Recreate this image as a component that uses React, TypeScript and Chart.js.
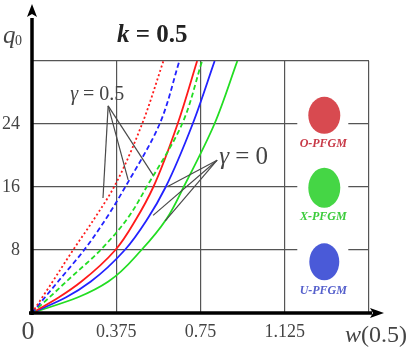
import React, { useEffect, useRef } from 'react';
import { Chart, registerables } from 'chart.js';

Chart.register(...registerables);

// q0 levels (y) and the w(0.5) value (x) of each curve at those levels
const qLevels = [0, 2, 4, 8, 12, 16, 24, 32];
const wO_g05 = [0, 0.046, 0.092, 0.183, 0.278, 0.365, 0.49, 0.585];
const wU_g05 = [0, 0.058, 0.116, 0.232, 0.33, 0.415, 0.568, 0.656];
const wX_g05 = [0, 0.078, 0.153, 0.305, 0.425, 0.51, 0.668, 0.757];
const wO_g0 = [0, 0.12, 0.22, 0.371, 0.465, 0.54, 0.648, 0.735];
const wU_g0 = [0, 0.152, 0.262, 0.413, 0.515, 0.595, 0.715, 0.813];
const wX_g0 = [0, 0.205, 0.34, 0.487, 0.6, 0.675, 0.812, 0.914];

const xTicks = [0, 0.375, 0.75, 1.125, 1.5];
const xTickLabels = ['', '0.375', '0.75', '1.125', ''];
const yTicks = [0, 8, 16, 24, 32];
const yTickLabels = ['', '8', '16', '24', ''];

const legendNames = ['O-PFGM', 'X-PFGM', 'U-PFGM'];
const legendFill = ['#d84a50', '#45d645', '#4a5ad8'];
const legendText = ['#c83a48', '#3ccc3c', '#5560cc'];

const FAM = '"Liberation Serif", "DejaVu Serif", serif';

// annotation pointers (data coordinates)
const g05Apex = { x: 0.339, y: 26.3 };
const g05Ends = [
  { x: 0.316, y: 14.6 },
  { x: 0.428, y: 16.9 },
  { x: 0.539, y: 17.5 },
];
const g0Apex = { x: 0.824, y: 19.4 };
const g0Ends = [
  { x: 0.606, y: 16.1 },
  { x: 0.539, y: 12.4 },
  { x: 0.593, y: 11.7 },
];

const overlay = {
  id: 'overlay',
  afterDraw(chart: any) {
    const { ctx } = chart;
    const xs = chart.scales.x;
    const ys = chart.scales.y;
    const X = (v: number) => xs.getPixelForValue(v);
    const Y = (v: number) => ys.getPixelForValue(v);
    ctx.save();

    // legend markers
    const lx = X(1.301);
    const centers = [Y(25.1), Y(15.9), Y(6.5)];
    const radii = [
      [16, 18.5],
      [16, 20],
      [15, 18.5],
    ];
    centers.forEach((cy, i) => {
      ctx.fillStyle = '#ffffff';
      ctx.fillRect(lx - 27, cy - 22, 51, 56);
      const [rx, ry] = radii[i];
      ctx.fillStyle = legendFill[i];
      ctx.beginPath();
      ctx.ellipse(lx, cy, rx, ry, 0, 0, Math.PI * 2);
      ctx.fill();
      ctx.fillStyle = legendText[i];
      ctx.font = `italic bold 12px ${FAM}`;
      ctx.textAlign = 'center';
      ctx.textBaseline = 'alphabetic';
      ctx.fillText(legendNames[i], lx - 1, cy + 32);
    });

    // annotation pointer lines
    ctx.strokeStyle = '#4a4a4a';
    ctx.lineWidth = 1.2;
    ctx.setLineDash([]);
    [
      [g05Apex, g05Ends],
      [g0Apex, g0Ends],
    ].forEach(([apex, ends]: any) => {
      ends.forEach((e: any) => {
        ctx.beginPath();
        ctx.moveTo(X(apex.x), Y(apex.y));
        ctx.lineTo(X(e.x), Y(e.y));
        ctx.stroke();
      });
    });

    ctx.fillStyle = '#444';
    ctx.textAlign = 'left';
    ctx.textBaseline = 'alphabetic';
    // γ = 0.5
    let tx = X(g05Apex.x) - 38;
    let ty = Y(g05Apex.y) - 6;
    ctx.font = `italic 20px ${FAM}`;
    ctx.fillText('γ', tx, ty);
    tx += ctx.measureText('γ').width;
    ctx.font = `20px ${FAM}`;
    ctx.fillText(' = 0.5', tx, ty);
    // γ = 0
    tx = X(g0Apex.x) + 2;
    ty = Y(g0Apex.y) + 4;
    ctx.font = `italic 25px ${FAM}`;
    ctx.fillText('γ', tx, ty);
    tx += ctx.measureText('γ').width;
    ctx.font = `25px ${FAM}`;
    ctx.fillText(' = 0', tx, ty);

    // thick axes with arrows
    const x0 = X(0);
    const y0 = Y(0);
    const xEnd = X(1.5);
    const yTop = Y(32);
    ctx.strokeStyle = '#000';
    ctx.fillStyle = '#000';
    ctx.lineWidth = 3.5;
    ctx.beginPath();
    ctx.moveTo(x0 - 3, y0);
    ctx.lineTo(xEnd + 3, y0);
    ctx.stroke();
    ctx.beginPath();
    ctx.moveTo(xEnd + 15, y0);
    ctx.lineTo(xEnd + 1, y0 - 5);
    ctx.lineTo(xEnd + 4, y0);
    ctx.lineTo(xEnd + 1, y0 + 5);
    ctx.closePath();
    ctx.fill();
    ctx.beginPath();
    ctx.moveTo(x0, y0 + 2);
    ctx.lineTo(x0, yTop - 43);
    ctx.stroke();
    ctx.beginPath();
    ctx.moveTo(x0, yTop - 57);
    ctx.lineTo(x0 - 5, yTop - 44);
    ctx.lineTo(x0, yTop - 47);
    ctx.lineTo(x0 + 5, yTop - 44);
    ctx.closePath();
    ctx.fill();

    // axis titles and origin
    ctx.fillStyle = '#444';
    ctx.font = `26px ${FAM}`;
    ctx.textAlign = 'center';
    ctx.fillText('0', x0 - 4, y0 + 26);

    ctx.textAlign = 'left';
    ctx.font = `italic 25px ${FAM}`;
    ctx.fillText('q', 3, 43);
    ctx.font = `14px ${FAM}`;
    ctx.fillText('0', 15, 45);

    let wx = xEnd - 24;
    ctx.font = `italic 24px ${FAM}`;
    ctx.fillText('w', wx, y0 + 29);
    wx += ctx.measureText('w').width;
    ctx.font = `24px ${FAM}`;
    ctx.fillText('(0.5)', wx, y0 + 29);

    ctx.fillStyle = '#222';
    let kx = 117;
    ctx.font = `italic bold 25px ${FAM}`;
    ctx.fillText('k', kx, 42);
    kx += ctx.measureText('k').width;
    ctx.font = `bold 25px ${FAM}`;
    ctx.fillText(' = 0.5', kx, 42);

    ctx.restore();
  },
};

const mk = (label: string, ws: number[], color: string, dash: number[]) => ({
  label,
  data: ws.map((w, i) => ({ x: w, y: qLevels[i] })),
  borderColor: color,
  backgroundColor: color,
  borderDash: dash,
  borderWidth: 1.8,
  pointRadius: 0,
  fill: false,
  cubicInterpolationMode: 'monotone' as const,
});

export default function App() {
  const ref = useRef<HTMLCanvasElement | null>(null);
  useEffect(() => {
    if (!ref.current) return;
    const chart = new Chart(ref.current, {
      type: 'line',
      data: {
        datasets: [
          mk('O-PFGM γ=0.5', wO_g05, '#ff1a1a', [2, 2.5]),
          mk('U-PFGM γ=0.5', wU_g05, '#2222ff', [5, 3]),
          mk('X-PFGM γ=0.5', wX_g05, '#22dd22', [5, 3]),
          mk('O-PFGM γ=0', wO_g0, '#ff1a1a', []),
          mk('U-PFGM γ=0', wU_g0, '#2222ff', []),
          mk('X-PFGM γ=0', wX_g0, '#22dd22', []),
        ],
      } as any,
      options: {
        animation: false,
        responsive: false,
        devicePixelRatio: 1,
        indexAxis: 'y',
        layout: { padding: { top: 61, right: 37, left: 0, bottom: 0 } },
        plugins: {
          legend: { display: false },
          tooltip: { enabled: false },
        },
        scales: {
          x: {
            type: 'linear',
            position: 'bottom',
            min: 0,
            max: 1.5,
            afterBuildTicks: (s: any) => {
              s.ticks = xTicks.map((v) => ({ value: v }));
            },
            afterFit: (s: any) => {
              s.height = 38;
            },
            grid: { color: '#555', lineWidth: 1.2, drawTicks: false },
            border: { display: false },
            ticks: {
              callback: (_v: any, i: number) => xTickLabels[i],
              font: { family: FAM, size: 18 },
              color: '#444',
              padding: 8,
              maxRotation: 0,
              autoSkip: false,
            },
          },
          y: {
            type: 'linear',
            position: 'left',
            min: 0,
            max: 32,
            afterBuildTicks: (s: any) => {
              s.ticks = yTicks.map((v) => ({ value: v }));
            },
            afterFit: (s: any) => {
              s.width = 32;
            },
            grid: { color: '#555', lineWidth: 1.2, drawTicks: false },
            border: { display: false },
            ticks: {
              callback: (_v: any, i: number) => yTickLabels[i],
              font: { family: FAM, size: 18 },
              color: '#444',
              padding: 12,
              autoSkip: false,
            },
          },
        },
      } as any,
      plugins: [overlay],
    });
    return () => chart.destroy();
  }, []);
  return (
    <div style={{ position: 'absolute', left: 0, top: 0, width: 406, height: 351, background: '#fff' }}>
      <canvas ref={ref} width={406} height={351} style={{ display: 'block' }} />
    </div>
  );
}
